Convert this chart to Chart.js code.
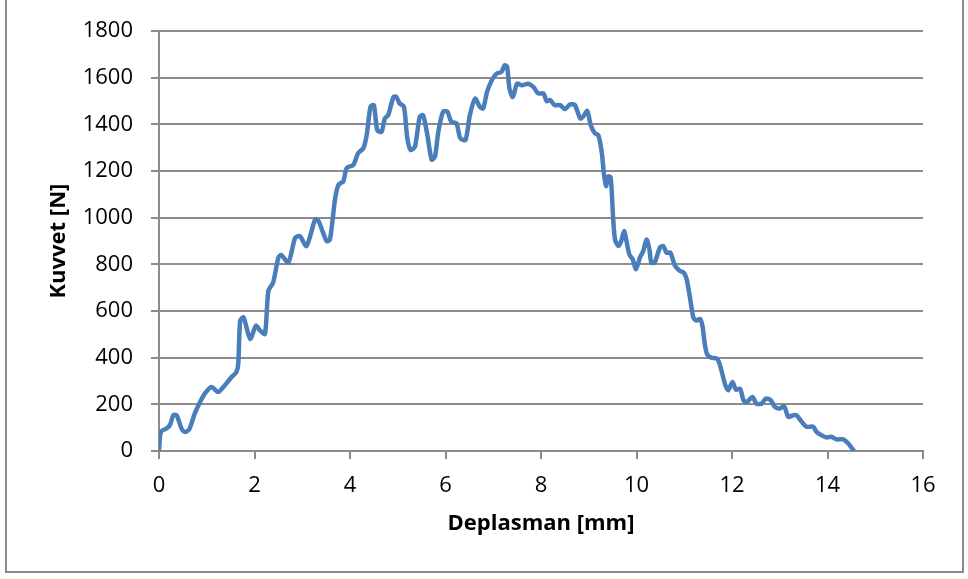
<!DOCTYPE html>
<html>
<head>
<meta charset="utf-8">
<script src="https://cdn.jsdelivr.net/npm/chart.js@4/dist/chart.umd.min.js"></script>
<style>
  html, body { margin: 0; padding: 0; background: #fff; }
  #frame {
    position: absolute; left: 5px; top: -4px;
    width: 959px; height: 577px;
    border: 2px solid #8c8c8c; box-sizing: border-box;
  }
  #wrap { position: absolute; left: 0; top: 0; width: 968px; height: 579px; }
</style>
</head>
<body>
<div id="frame"></div>
<div id="wrap"><canvas id="chart" width="968" height="579"></canvas></div>
<script>
// Kuvvet - deplasman egrisi
const deplasman = [
  0, 0.04, 0.16, 0.23, 0.30, 0.37, 0.47, 0.54, 0.63, 0.75, 0.86, 0.96, 1.10, 1.24, 1.38, 1.52, 1.62,
  1.66, 1.70, 1.77, 1.91, 2.03, 2.12, 2.22, 2.29, 2.39, 2.50, 2.56, 2.71, 2.85, 2.95, 3.09, 3.27,
  3.34, 3.51, 3.58, 3.69, 3.76, 3.86, 3.93, 4.07, 4.17, 4.28, 4.35, 4.43, 4.50, 4.57, 4.66, 4.73,
  4.80, 4.91, 4.97, 5.04, 5.13, 5.20, 5.27, 5.36, 5.46, 5.53, 5.62, 5.71, 5.78, 5.85, 5.95, 6.04,
  6.12, 6.23, 6.31, 6.42, 6.51, 6.62, 6.72, 6.79, 6.87, 6.97, 7.07, 7.17, 7.24, 7.29, 7.34, 7.41,
  7.50, 7.60, 7.73, 7.84, 7.94, 8.05, 8.12, 8.19, 8.29, 8.40, 8.50, 8.61, 8.71, 8.82, 8.88, 8.97,
  9.04, 9.13, 9.20, 9.27, 9.32, 9.36, 9.41, 9.46, 9.51, 9.55, 9.62, 9.68, 9.74, 9.79, 9.85, 9.92,
  9.99, 10.07, 10.14, 10.21, 10.27, 10.31, 10.38, 10.49, 10.56, 10.63, 10.71, 10.81, 10.91, 10.99,
  11.05, 11.12, 11.19, 11.25, 11.33, 11.38, 11.43, 11.48, 11.57, 11.69, 11.76, 11.85, 11.92, 12.01,
  12.08, 12.17, 12.24, 12.31, 12.43, 12.51, 12.62, 12.71, 12.81, 12.90, 12.99, 13.09, 13.18, 13.28,
  13.35, 13.46, 13.56, 13.70, 13.77, 13.87, 13.98, 14.08, 14.19, 14.33, 14.43, 14.53, 14.56
];
const kuvvet = [
  0, 82, 97, 111, 153, 153, 97, 82, 92, 161, 210, 246, 274, 253, 282, 317, 338,
  374, 559, 573, 481, 537, 516, 502, 687, 722, 829, 840, 808, 914, 921, 879, 993,
  986, 900, 907, 1085, 1142, 1156, 1213, 1227, 1277, 1298, 1355, 1476, 1483, 1376, 1369, 1426,
  1440, 1518, 1518, 1490, 1476, 1341, 1291, 1305, 1433, 1440, 1355, 1249, 1263, 1369, 1455, 1455,
  1412, 1405, 1341, 1334, 1440, 1511, 1476, 1469, 1540, 1590, 1618, 1625, 1654, 1647, 1554, 1518,
  1575, 1568, 1575, 1561, 1533, 1533, 1500, 1505, 1483, 1483, 1466, 1486, 1483, 1426, 1433, 1458,
  1398, 1362, 1355, 1284, 1184, 1135, 1177, 1173, 1000, 907, 879, 900, 943, 900, 843, 822,
  779, 829, 857, 907, 865, 808, 808, 872, 879, 850, 850, 793, 772, 765,
  737, 658, 573, 559, 566, 537, 459, 414, 400, 395, 360, 289, 260, 296,
  263, 267, 218, 210, 232, 203, 203, 225, 218, 189, 182, 192, 146, 153,
  153, 125, 104, 104, 82, 68, 58, 61, 50, 50, 33, 7, 0
];
const xTicks = [0, 2, 4, 6, 8, 10, 12, 14, 16];
const yTicks = [0, 200, 400, 600, 800, 1000, 1200, 1400, 1600, 1800];

const points = deplasman.map((d, i) => ({ x: d, y: kuvvet[i] }));

const gridGrey = '#8c8c8c';
const tickFont = { family: "'Open Sans', sans-serif", size: 22 };
const titleFont = { family: "'Open Sans', sans-serif", size: 22, weight: 'bold' };

new Chart(document.getElementById('chart'), {
  type: 'scatter',
  data: {
    datasets: [{
      data: points,
      showLine: true,
      borderColor: '#4a7ebb',
      borderWidth: 4.5,
      pointRadius: 0,
      tension: 0.25,
      fill: false
    }]
  },
  options: {
    responsive: false,
    animation: false,
    events: [],
    layout: { padding: { left: 0, top: 29, right: 45, bottom: 0 } },
    plugins: { legend: { display: false }, tooltip: { enabled: false } },
    scales: {
      x: {
        type: 'linear', min: 0, max: 16,
        afterFit: (s) => { s.height = 579 - 451; },
        afterBuildTicks: (s) => { s.ticks = xTicks.map(v => ({ value: v })); },
        grid: { drawOnChartArea: false, drawTicks: true, tickLength: 8, color: gridGrey, lineWidth: 2 },
        border: { display: true, color: gridGrey, width: 2 },
        ticks: { color: '#000', font: tickFont, padding: 14, maxRotation: 0, callback: (v) => String(v) },
        title: { display: true, text: 'Deplasman [mm]', color: '#000', font: titleFont, padding: { top: 0, bottom: 42 } }
      },
      y: {
        type: 'linear', min: 0, max: 1800,
        afterFit: (s) => { s.width = 159; },
        afterBuildTicks: (s) => { s.ticks = yTicks.map(v => ({ value: v })); },
        grid: { drawTicks: true, tickLength: 8, color: gridGrey, lineWidth: 2 },
        border: { display: true, color: gridGrey, width: 2 },
        ticks: { color: '#000', font: tickFont, padding: 18, callback: (v) => String(v) },
        title: { display: true, text: 'Kuvvet [N]', color: '#000', font: titleFont, padding: { top: 46, bottom: 0 } }
      }
    }
  }
});
</script>
</body>
</html>
